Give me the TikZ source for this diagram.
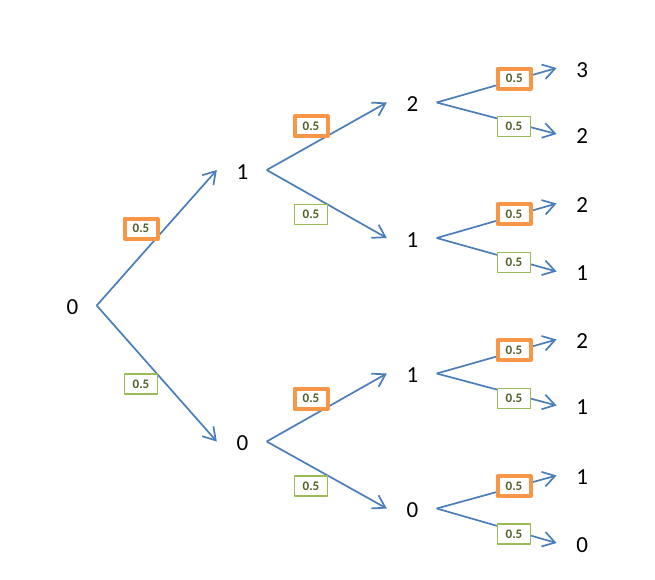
\documentclass[tikz,border=0pt]{standalone}
\usepackage{fontspec}
\setmainfont{Carlito}
\usetikzlibrary{arrows.meta}
\definecolor{edgeblue}{RGB}{74,126,187}
\definecolor{hiorange}{RGB}{247,150,70}
\definecolor{lowgreen}{RGB}{155,187,89}
\definecolor{probtext}{RGB}{79,98,40}
\begin{document}
\begin{tikzpicture}[x=1pt,y=-1pt,
  num/.style={font=\fontsize{23}{23}\selectfont, minimum width=48pt, inner sep=0pt},
  edge/.style={draw=edgeblue, line width=1.7pt, -{Straight Barb[length=12pt,width=15pt]}},
  prob/.style={fill=white, minimum width=33pt, minimum height=20pt, inner sep=0pt,
    font=\fontsize{13}{13}\selectfont\bfseries, text=probtext, line join=round},
  hi/.style={prob, draw=hiorange, line width=4pt},
  lo/.style={prob, draw=lowgreen, line width=1.2pt}]
\useasboundingbox (0,0) rectangle (655,579);
% nodes
\node[num] (a) at (72.5,307.5) {0};
\node[num] (b1) at (242.5,172) {1};
\node[num] (b2) at (242.5,443.5) {0};
\node[num] (c1) at (412.5,104.5) {2};
\node[num] (c2) at (412.5,240) {1};
\node[num] (c3) at (412.5,375.5) {1};
\node[num] (c4) at (412.5,510.5) {0};
\node[num] (d1) at (582.3,70) {3};
\node[num] (d2) at (582.3,136) {2};
\node[num] (d3) at (582.3,205.5) {2};
\node[num] (d4) at (582.3,273.5) {1};
\node[num] (d5) at (582.3,341.5) {2};
\node[num] (d6) at (582.3,407.5) {1};
\node[num] (d7) at (582.3,477.5) {1};
\node[num] (d8) at (582.3,545) {0};
% edges
\foreach \s/\t in {a/b1,a/b2,b1/c1,b1/c2,b2/c3,b2/c4,c1/d1,c1/d2,c2/d3,c2/d4,c3/d5,c3/d6,c4/d7,c4/d8}
  \draw[edge] ([yshift=2pt]\s.east) -- ([xshift=-1.5pt,yshift=2pt]\t.west);
% probabilities
\node[hi] (pa1) at (141,228.7) {0.5};
\node[lo] (pa2) at (141,384) {0.5};
\node[hi] (pb1) at (311,126.3) {0.5};
\node[lo] (pb2) at (311,214.3) {0.5};
\node[hi] (pb3) at (311,398.7) {0.5};
\node[lo] (pb4) at (311,486) {0.5};
\node[hi] (pc1) at (514.3,78.5) {0.5};
\node[lo] (pc2) at (514,126.3) {0.5};
\node[hi] (pc3) at (514,214) {0.5};
\node[lo] (pc4) at (514,262.3) {0.5};
\node[hi] (pc5) at (514,350.3) {0.5};
\node[lo] (pc6) at (514,398.3) {0.5};
\node[hi] (pc7) at (514,486.3) {0.5};
\node[lo] (pc8) at (514,534) {0.5};
\end{tikzpicture}
\end{document}
